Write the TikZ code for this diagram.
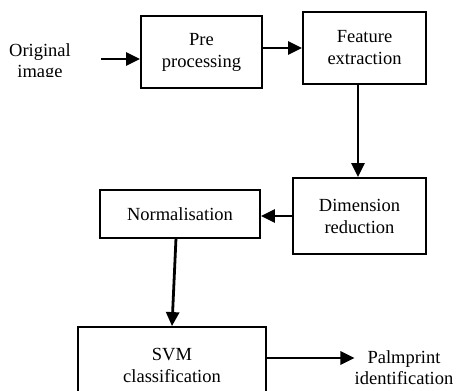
\documentclass[tikz,border=0pt]{standalone}
\usepackage{fontspec}
\setmainfont{Liberation Serif}
\usetikzlibrary{arrows.meta, positioning}

\begin{document}
\begin{tikzpicture}[x=1pt, y=-1pt,
  box/.style={rectangle, draw, line width=1.8pt, align=center, inner sep=0pt, font=\fontsize{18.5}{22}\selectfont},
  label/.style={align=center, inner sep=0pt, font=\fontsize{18.5}{21}\selectfont},
  arrow/.style={-{Triangle[length=14pt, width=13pt]}, line width=2.8pt}
]
\useasboundingbox (0,0) rectangle (462,390);
\clip (0,0) rectangle (462,390);

\node[box, minimum width=121pt, minimum height=72pt] (pre) at (201.5,52) {Pre\\processing};
\node[box, minimum width=123pt, minimum height=72pt] (feat) at (364.5,48) {Feature\\extraction};
\node[box, minimum width=133pt, minimum height=76pt] (dim) at (359.5,216) {Dimension\\reduction};
\node[box, minimum width=160pt, minimum height=48pt] (norm) at (180,214) {Normalisation};
\node[box, minimum width=188pt, minimum height=76pt] (svm) at (172,365) {SVM\\classification};
\node[label] (palm) at (404,368) {Palmprint\\identification};

% input text is cut off at the bottom
\begin{scope}
  \clip (0,30) rectangle (100,76.5);
  \node[label] (orig) at (40,63) {Original\\image};
\end{scope}
\coordinate (in) at (101,59);

\draw[arrow] (in) -- (in -| pre.west);
\draw[arrow] (pre.east |- 0,48) -- (feat.west |- 0,48);
\draw[arrow] (feat.south -| 358,0) -- (dim.north -| 358,0);
\draw[arrow] (dim.west |- 0,216) -- (norm.east |- 0,216);
\draw[arrow] (176,238) -- (svm.north -| 172,0);
\draw[arrow] (svm.east |- 0,358) -- (palm.west |- 0,358);
\end{tikzpicture}
\end{document}
